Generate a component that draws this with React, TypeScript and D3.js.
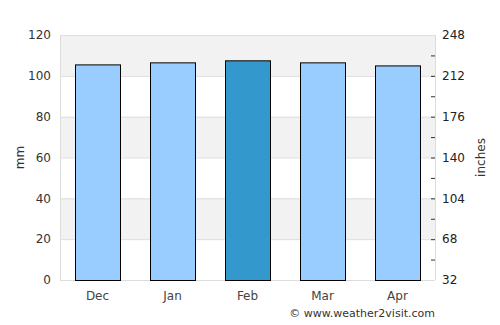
import * as d3 from 'd3';
import React from 'react';

const months = ['Dec', 'Jan', 'Feb', 'Mar', 'Apr'];
const rainfall = [105.6, 106.6, 107.6, 106.6, 105.1];
const highlight = 'Feb';
const leftTicks = [0, 20, 40, 60, 80, 100, 120];
const rightTicks = [32, 68, 104, 140, 176, 212, 248];
const rightMinor = [50, 86, 122, 158, 194, 230];

const width = 500;
const height = 325;
const margin = { top: 35, right: 65, bottom: 45, left: 60 };
const font = '"DejaVu Sans", sans-serif';

export default function App() {
  const innerW = width - margin.left - margin.right;
  const innerH = height - margin.top - margin.bottom;

  const x = d3.scaleBand().domain(months).range([0, innerW]).paddingInner(0.4).paddingOuter(0.2);
  const y = d3.scaleLinear().domain([0, 120]).range([innerH, 0]);
  const yR = d3.scaleLinear().domain([32, 248]).range([innerH, 0]);

  const stripes = d3.pairs(leftTicks);

  return (
    <svg width={width} height={height} style={{ position: 'absolute', left: 0, top: 0 }} fontFamily={font}>
      <g transform={`translate(${margin.left},${margin.top})`}>
        {stripes.map(([a, b], i) => (
          <rect key={i} x={0} y={y(b)} width={innerW} height={y(a) - y(b)}
            fill={i % 2 === 1 ? '#f2f2f2' : '#ffffff'} />
        ))}
        {leftTicks.map(t => (
          <line key={t} x1={0} x2={innerW} y1={y(t) + 0.5} y2={y(t) + 0.5} stroke="#dddddd" />
        ))}
        <line x1={0.5} x2={0.5} y1={0} y2={innerH} stroke="#dddddd" />
        <line x1={innerW + 0.5} x2={innerW + 0.5} y1={0} y2={innerH} stroke="#dddddd" />

        {months.map((m, i) => (
          <rect key={m} x={x(m)! + 0.5} y={y(rainfall[i]) + 0.5} width={x.bandwidth()}
            height={innerH - y(rainfall[i])}
            fill={m === highlight ? '#3399cc' : '#99ccff'} stroke="#000" strokeWidth={1} />
        ))}

        {leftTicks.map(t => (
          <text key={t} x={-9} y={y(t)} dy="0.35em" textAnchor="end" fontSize={12} fill="#333">{t}</text>
        ))}
        {rightTicks.map(t => (
          <g key={t}>
            {t !== 32 && t !== 248 && (
              <line x1={innerW - 4} x2={innerW} y1={yR(t) + 0.5} y2={yR(t) + 0.5} stroke="#333" />
            )}
            <text x={innerW + 7} y={yR(t)} dy="0.35em" fontSize={12} fill="#222">{t}</text>
          </g>
        ))}
        {rightMinor.map(t => (
          <line key={t} x1={innerW - 4} x2={innerW} y1={yR(t) + 0.5} y2={yR(t) + 0.5} stroke="#333" />
        ))}

        {months.map(m => (
          <text key={m} x={x(m)! + x.bandwidth() / 2} y={innerH + 20} textAnchor="middle"
            fontSize={12} fill="#444">{m}</text>
        ))}

        <text transform={`translate(${-36},${innerH / 2}) rotate(-90)`} textAnchor="middle"
          fontSize={12} fill="#333">mm</text>
        <text transform={`translate(${innerW + 50},${innerH / 2}) rotate(-90)`} textAnchor="middle"
          fontSize={12} fill="#333">inches</text>
      </g>
      <text x={435} y={317} textAnchor="end" fontSize={11} fill="#333">© www.weather2visit.com</text>
    </svg>
  );
}
